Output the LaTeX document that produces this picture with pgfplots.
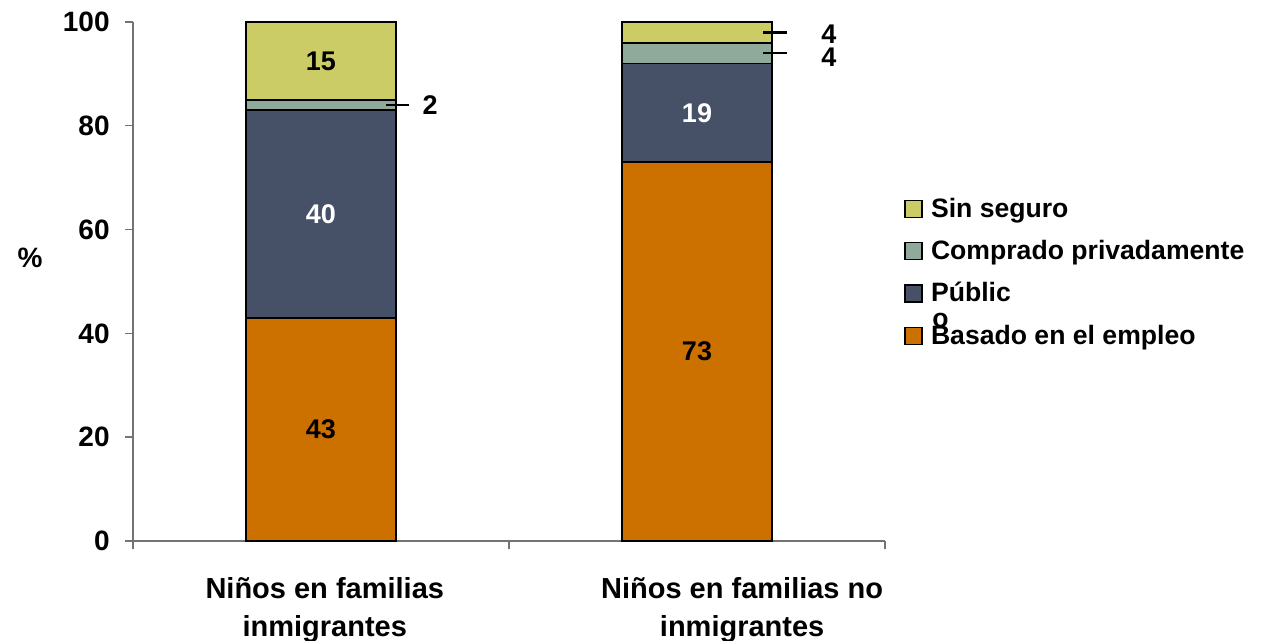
\documentclass[border=0pt]{standalone}
\usepackage{fontspec}
\setmainfont{Liberation Sans}
\usepackage{pgfplots}
\pgfplotsset{compat=1.18}

\definecolor{cOrange}{RGB}{204,112,0}
\definecolor{cSlate}{RGB}{70,80,102}
\definecolor{cGreen}{RGB}{143,170,155}
\definecolor{cYellow}{RGB}{204,204,102}

\tikzset{
  seg/.style={font=\bfseries\fontsize{13.5}{15}\selectfont},
  cat/.style={font=\bfseries\fontsize{14.5}{19}\selectfont, align=center, anchor=north, inner sep=0pt},
}
\pgfplotsset{
  sq/.style={legend image code/.code={\draw[##1, line width=0.6pt] (0pt,-4.25pt) rectangle (8.5pt,4.25pt);
    \path[draw=none, fill=none] (0pt,0pt) -- (11pt,0pt);}},
}

\begin{document}
\begin{tikzpicture}
\path[use as bounding box] (-66.5pt,-50pt) rectangle (564.5pt,270.5pt);
\begin{axis}[
    at={(0,0)}, anchor=south west,
    scale only axis,
    width=376pt, height=259.5pt,
    ybar stacked,
    bar width=75pt,
    xmin=-0.5, xmax=1.5,
    ymin=0, ymax=100,
    ytick={0,20,40,60,80,100},
    xtick={-0.5,0.5,1.5},
    xticklabels={},
    axis x line*=bottom,
    axis y line*=left,
    axis line style={gray!90!black, line width=0.7pt},
    tick style={gray!90!black, line width=0.7pt},
    tick align=outside,
    major tick length=4pt,
    /pgf/number format/assume math mode=true,
    yticklabel style={font=\bfseries\fontsize{14}{16}\selectfont, inner sep=0pt, xshift=-7.5pt},
    clip=false,
    legend cell align=left,
    legend style={draw=none, fill=none, at={(rel axis cs:1.0253,0.5175)}, anchor=west,
        inner sep=0pt, row sep=6pt,
        font=\bfseries\fontsize{13.3}{15}\selectfont},
]
\addlegendimage{sq, fill=cYellow, draw=black}
\addlegendentry{Sin seguro}
\addlegendimage{sq, fill=cGreen, draw=black}
\addlegendentry{Comprado privadamente}
\addlegendimage{sq, fill=cSlate, draw=black}
\addlegendentry{Públic}
\addlegendimage{sq, fill=cOrange, draw=black}
\addlegendentry{Basado en el empleo}

\addplot[fill=cOrange, draw=black, line width=0.9pt, forget plot] coordinates {(0,43) (1,73)};
\addplot[fill=cSlate, draw=black, line width=0.9pt, forget plot] coordinates {(0,40) (1,19)};
\addplot[fill=cGreen, draw=black, line width=0.9pt, forget plot] coordinates {(0,2) (1,4)};
\addplot[fill=cYellow, draw=black, line width=0.9pt, forget plot] coordinates {(0,15) (1,4)};

\coordinate (a43) at (axis cs:0,21.5);
\coordinate (a40) at (axis cs:0,63);
\coordinate (a15) at (axis cs:0,92.5);
\coordinate (b73) at (axis cs:1,36.5);
\coordinate (b19) at (axis cs:1,82.5);
\coordinate (l2a) at (axis cs:0.173,84);
\coordinate (l2b) at (axis cs:0.234,84);
\coordinate (t2) at (axis cs:0.29,84);
\coordinate (l4a) at (axis cs:1.176,98);
\coordinate (l4b) at (axis cs:1.239,98);
\coordinate (t4a) at (axis cs:1.351,97.6);
\coordinate (l4c) at (axis cs:1.176,94);
\coordinate (l4d) at (axis cs:1.239,94);
\coordinate (t4b) at (axis cs:1.351,93.3);
\coordinate (c1) at (axis cs:0.01,-6.9);
\coordinate (c2) at (axis cs:1.12,-6.9);
\coordinate (pc) at (rel axis cs:-0.137,0.5453);
\coordinate (oo) at (rel axis cs:1.0625,0.425);
\end{axis}

\node[seg] at (a43) {43};
\node[seg, text=white] at (a40) {40};
\node[seg] at (a15) {15};
\node[seg] at (b73) {73};
\node[seg, text=white] at (b19) {19};
\draw[line width=1.3pt] (l2a) -- (l2b);
\node[seg] at (t2) {2};
\draw[line width=1.3pt] (l4a) -- (l4b);
\node[seg] at (t4a) {4};
\draw[line width=1.3pt] (l4c) -- (l4d);
\node[seg] at (t4b) {4};

\node[cat] at (c1) {Niños en familias\\inmigrantes};
\node[cat] at (c2) {Niños en familias no\\inmigrantes};

\node[font=\bfseries\fontsize{14}{16}\selectfont] at (pc) {\%};
\node[font=\bfseries\fontsize{13.3}{15}\selectfont, anchor=west, inner sep=0pt] at (oo) {o};
\end{tikzpicture}
\end{document}
